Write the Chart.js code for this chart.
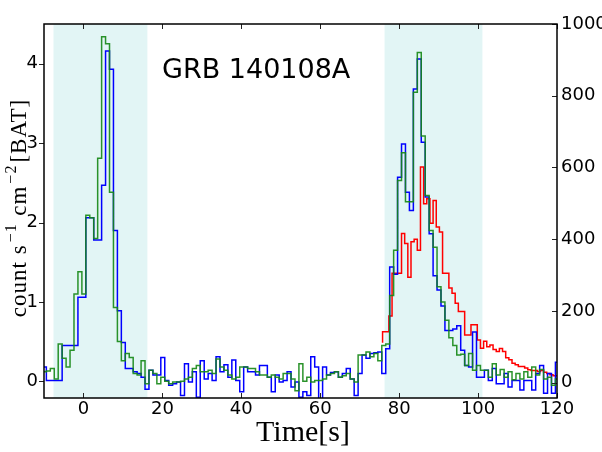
<!DOCTYPE html>
<html>
<head>
<meta charset="utf-8">
<script src="https://cdn.jsdelivr.net/npm/chart.js@4/dist/chart.umd.min.js"></script>
<style>
  html, body { margin: 0; padding: 0; background: #ffffff; }
  #c { display: block; }
</style>
</head>
<body>
<canvas id="c" width="602" height="452"></canvas>
<script>
// ---------------- data ----------------
const chartTitle = "GRB 140108A";
const xTitle = "Time[s]";

// BAT light curves: 1-s bins, first bin starts at batBinStart
const batBinStart = -10.4;
const batBinWidth = 1.0;

const greenCounts = [
  0.12, 0.13, 0.16, 0.03, 0.47, 0.29, 0.18, 0.39, 1.10, 1.38,
  1.10, 2.09, 2.06, 1.80, 2.81, 4.34, 4.25, 2.38, 0.93, 0.50,
  0.26, 0.35, 0.30, 0.10, 0.08, 0.26, -0.03, 0.14, 0.10, -0.03,
  0.05, 0.00, -0.03, -0.01, -0.01, 0.00, 0.03, 0.05, 0.16, 0.20,
  0.12, 0.12, 0.14, 0.10, 0.28, 0.18, 0.14, 0.08, 0.03, 0.05,
  0.18, 0.18, 0.16, 0.16, 0.12, 0.08, 0.08, 0.05, 0.08, 0.05,
  0.03, 0.10, 0.10, 0.03, -0.12, 0.22, 0.00, 0.05, -0.01, 0.01,
  0.01, 0.03, 0.08, 0.10, 0.12, 0.05, 0.07, 0.10, 0.03, -0.01,
  0.33, 0.33, 0.37, 0.31, 0.35, 0.26, 0.45, 0.47, 1.08, 1.65,
  2.53, 2.88, 2.26, 2.26, 3.64, 4.14, 3.09, 2.34, 1.90, 1.69,
  1.19, 1.00, 0.77, 0.55, 0.45, 0.33, 0.34, 0.20, 0.35, 0.14,
  0.20, 0.14, 0.14, 0.05, 0.22, 0.08, 0.15, 0.05, 0.12, 0.02,
  0.10, 0.03, 0.12, 0.05, 0.18, 0.08, 0.15, 0.03, 0.05, -0.05,
  0.03
];

const blueCounts = [
  0.18, 0.01, 0.01, 0.01, 0.01, 0.45, 0.45, 0.45, 0.45, 1.06,
  1.06, 2.06, 2.06, 1.78, 1.78, 2.47, 4.16, 3.93, 1.90, 0.89,
  0.49, 0.16, 0.16, 0.12, 0.10, 0.05, -0.10, 0.14, 0.08, 0.08,
  0.30, 0.01, -0.05, -0.03, -0.01, -0.18, 0.22, -0.01, 0.12, -0.20,
  0.26, 0.03, 0.10, 0.01, 0.31, 0.12, 0.21, 0.05, 0.27, 0.01,
  -0.13, 0.18, 0.12, 0.12, 0.08, 0.20, 0.20, 0.05, -0.13, 0.08,
  -0.01, 0.01, 0.12, -0.07, -0.01, -0.20, -0.13, -0.18, 0.31, 0.18,
  -0.22, 0.18, 0.08, 0.11, 0.12, 0.05, 0.10, 0.16, 0.03, -0.18,
  0.10, 0.33, 0.29, 0.35, 0.36, 0.37, 0.10, 0.41, 1.44, 1.35,
  2.57, 2.99, 2.38, 2.15, 3.68, 4.06, 3.01, 2.32, 1.86, 1.33,
  1.15, 0.95, 0.64, 0.64, 0.66, 0.70, 0.39, 0.20, 0.18, 0.62,
  0.05, 0.05, 0.14, 0.01, 0.16, -0.03, -0.03, 0.10, -0.07, 0.01,
  0.01, -0.11, 0.01, 0.01, -0.11, 0.10, 0.20, -0.15, 0.10, -0.15,
  0.24
];

// second instrument (right axis): first value is the level at the start edge,
// each following value is one bin of width redBinWidth
const redBinStart = 75.8;
const redBinWidth = 0.8;
const redCounts = [
  111,
  142, 142, 186, 305, 305, 305, 416, 388, 294, 393,
  400, 369, 601, 499, 513, 444, 508, 434, 420, 305,
  305, 264, 249, 221, 198, 198, 133, 133, 161, 161,
  119, 96, 115, 100, 105, 92, 87, 95, 87, 69,
  64, 54, 50, 45, 45, 41, 36, 34, 34, 31,
  34, 29, 25, 22, 19, 19
];

// shaded time intervals
const shadeStart = [-7.6, 76.3];
const shadeEnd = [16.2, 101.1];

// axes
const xMin = -10, xMax = 120;
const xTicks = [0, 20, 40, 60, 80, 100, 120];
const yLeftMin = -0.21, yLeftMax = 4.5;
const yLeftTicks = [0, 1, 2, 3, 4];
const yRightMin = -43, yRightMax = 1000;
const yRightTicks = [0, 200, 400, 600, 800, 1000];

// ---------------- build step points ----------------
function batPoints(values) {
  const pts = values.map((v, i) => ({ x: batBinStart + i * batBinWidth, y: v }));
  pts.push({ x: batBinStart + values.length * batBinWidth, y: values[values.length - 1] });
  return pts;
}
const redPoints = redCounts.map((v, i) => ({ x: redBinStart + i * redBinWidth, y: v }));

// ---------------- plugins ----------------
const shadePlugin = {
  id: 'shade',
  beforeDatasetsDraw(chart) {
    const { ctx, chartArea, scales } = chart;
    ctx.save();
    ctx.fillStyle = '#e2f5f5';
    for (let k = 0; k < shadeStart.length; k++) {
      const x0 = scales.x.getPixelForValue(shadeStart[k]);
      const x1 = scales.x.getPixelForValue(shadeEnd[k]);
      ctx.fillRect(x0, chartArea.top, x1 - x0, chartArea.bottom - chartArea.top);
    }
    ctx.restore();
  }
};

const framePlugin = {
  id: 'frame',
  afterDraw(chart) {
    const { ctx, chartArea: a, scales } = chart;
    ctx.save();
    // tick marks
    ctx.strokeStyle = '#222';
    ctx.lineWidth = 1;
    const tl = 5;
    ctx.beginPath();
    xTicks.forEach(v => {
      const px = Math.round(scales.x.getPixelForValue(v)) + 0.5;
      ctx.moveTo(px, a.bottom); ctx.lineTo(px, a.bottom - tl);
      ctx.moveTo(px, a.top); ctx.lineTo(px, a.top + tl);
    });
    yLeftTicks.forEach(v => {
      const py = Math.round(scales.y.getPixelForValue(v)) + 0.5;
      ctx.moveTo(a.left, py); ctx.lineTo(a.left - tl, py);
    });
    yRightTicks.forEach(v => {
      const py = Math.round(scales.y2.getPixelForValue(v)) + 0.5;
      ctx.moveTo(a.right, py); ctx.lineTo(a.right - tl, py);
    });
    ctx.stroke();
    // frame
    ctx.strokeStyle = '#000';
    ctx.lineWidth = 1.5;
    ctx.strokeRect(a.left, a.top, a.right - a.left, a.bottom - a.top);

    // chart title inside the plot
    ctx.fillStyle = '#000';
    ctx.font = '27px "DejaVu Sans"';
    ctx.textAlign = 'left';
    ctx.textBaseline = 'alphabetic';
    ctx.fillText(chartTitle, 162, 78);

    // x axis title
    ctx.font = '30px "Liberation Serif"';
    ctx.textAlign = 'center';
    ctx.fillText(xTitle, 303, 441);

    // y axis title with superscripts
    const parts = [
      { t: 'count s', sup: false },
      { t: '\u22121', sup: true },
      { t: '\u2009cm', sup: false },
      { t: '\u22122', sup: true },
      { t: '[BAT]', sup: false }
    ];
    const mainFont = '23px "Liberation Serif"';
    const supFont = '16px "Liberation Serif"';
    ctx.letterSpacing = '1px';
    let total = 0;
    parts.forEach(p => { ctx.font = p.sup ? supFont : mainFont; p.w = ctx.measureText(p.t).width + 2; total += p.w; });
    ctx.translate(26, 207);
    ctx.rotate(-Math.PI / 2);
    ctx.textAlign = 'left';
    let cx = -total / 2;
    parts.forEach(p => {
      ctx.font = p.sup ? supFont : mainFont;
      ctx.fillText(p.t, cx, p.sup ? -10 : 0);
      cx += p.w;
    });
    ctx.restore();
  }
};

// ---------------- chart ----------------
const tickFont = { family: 'DejaVu Sans', size: 18 };
const plainLabel = v => String(v);

new Chart(document.getElementById('c').getContext('2d'), {
  type: 'line',
  data: {
    datasets: [
      {
        label: 'BAT green',
        data: batPoints(greenCounts),
        yAxisID: 'y',
        stepped: 'before',
        borderColor: 'rgba(20,135,20,0.9)',
        borderWidth: 1.5,
        pointRadius: 0,
        fill: false
      },
      {
        label: 'BAT blue',
        data: batPoints(blueCounts),
        yAxisID: 'y',
        stepped: 'before',
        borderColor: '#0000ff',
        borderWidth: 1.5,
        pointRadius: 0,
        fill: false
      },
      {
        label: 'red',
        data: redPoints,
        yAxisID: 'y2',
        stepped: 'after',
        borderColor: '#ff0000',
        borderWidth: 1.5,
        pointRadius: 0,
        fill: false
      }
    ]
  },
  options: {
    responsive: false,
    animation: false,
    devicePixelRatio: 1,
    layout: { padding: { top: 24, left: 0, right: 0, bottom: 0 } },
    plugins: { legend: { display: false }, tooltip: { enabled: false }, title: { display: false } },
    elements: { line: { tension: 0 } },
    scales: {
      x: {
        type: 'linear',
        min: xMin, max: xMax,
        afterBuildTicks: s => { s.ticks = xTicks.map(v => ({ value: v })); },
        afterFit: s => { s.height = 54; },
        ticks: { font: tickFont, color: '#000', padding: 1, maxRotation: 0, autoSkip: false, callback: plainLabel },
        grid: { display: false, drawTicks: false },
        border: { display: false }
      },
      y: {
        type: 'linear',
        position: 'left',
        min: yLeftMin, max: yLeftMax,
        afterBuildTicks: s => { s.ticks = yLeftTicks.map(v => ({ value: v })); },
        afterFit: s => { s.width = 44; },
        ticks: { font: tickFont, color: '#000', padding: 6, callback: plainLabel },
        grid: { display: false, drawTicks: false },
        border: { display: false }
      },
      y2: {
        type: 'linear',
        position: 'right',
        min: yRightMin, max: yRightMax,
        afterBuildTicks: s => { s.ticks = yRightTicks.map(v => ({ value: v })); },
        afterFit: s => { s.width = 45; },
        ticks: { font: tickFont, color: '#000', padding: 4, callback: plainLabel },
        grid: { display: false, drawTicks: false },
        border: { display: false }
      }
    }
  },
  plugins: [shadePlugin, framePlugin]
});
</script>
</body>
</html>
